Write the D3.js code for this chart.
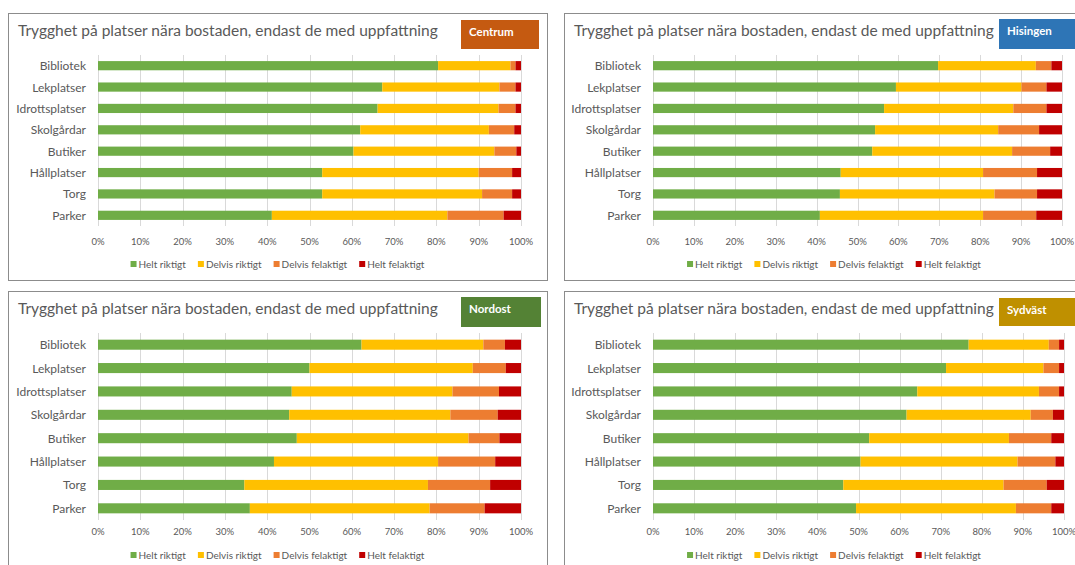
<!DOCTYPE html>
<head>
  <meta charset="utf-8">
  <script src="https://d3js.org/d3.v7.min.js"></script>
  <style>
    body { margin:0; background-color:#fff; }
    svg { display:block; }
    text { font-family: Lato, "Open Sans", sans-serif; fill:#595959; }
  </style>
</head>
<body>
<div class="chart-container"></div>
<script>
// chart data (shares in %)
var title = "Trygghet på platser nära bostaden, endast de med uppfattning";
var categories = ["Bibliotek", "Lekplatser", "Idrottsplatser", "Skolgårdar", "Butiker", "Hållplatser", "Torg", "Parker"];
var seriesNames = ["Helt riktigt", "Delvis riktigt", "Delvis felaktigt", "Helt felaktigt"];
var seriesColors = ["#70ad47", "#ffc000", "#ed7d31", "#c00000"];
var tickValues = [0, 10, 20, 30, 40, 50, 60, 70, 80, 90, 100];

var centrum = [
  [80.4, 17.1, 1.2, 1.3],
  [67.2, 27.7, 3.8, 1.3],
  [66.1, 28.6, 4.0, 1.3],
  [62.0, 30.4, 6.0, 1.6],
  [60.4, 33.3, 5.2, 1.1],
  [53.0, 37.0, 7.9, 2.1],
  [53.0, 37.8, 7.1, 2.1],
  [41.1, 41.5, 13.3, 4.1]
];
var hisingen = [
  [69.7, 23.9, 3.8, 2.6],
  [59.4, 30.7, 6.1, 3.8],
  [56.5, 31.6, 8.1, 3.8],
  [54.3, 30.1, 10.0, 5.6],
  [53.6, 34.2, 9.3, 2.9],
  [45.9, 34.8, 13.2, 6.1],
  [45.7, 37.8, 10.4, 6.1],
  [40.8, 39.9, 13.0, 6.3]
];
var nordost = [
  [62.3, 28.8, 5.1, 3.8],
  [50.0, 38.6, 7.8, 3.6],
  [45.8, 38.0, 11.0, 5.2],
  [45.2, 38.1, 11.2, 5.5],
  [47.0, 40.6, 7.3, 5.1],
  [41.6, 38.8, 13.5, 6.1],
  [34.6, 43.4, 14.7, 7.3],
  [35.9, 42.5, 13.0, 8.6]
];
var sydvast = [
  [76.8, 19.5, 2.5, 1.2],
  [71.3, 23.7, 3.8, 1.2],
  [64.3, 29.6, 4.9, 1.2],
  [61.7, 30.2, 5.4, 2.7],
  [52.6, 34.0, 10.3, 3.1],
  [50.5, 38.2, 9.2, 2.1],
  [46.3, 39.0, 10.5, 4.2],
  [49.4, 38.9, 8.6, 3.1]
];

// layout of the four chart boxes
var panels = [
  { name: "Centrum",  data: centrum,  badgeColor: "#c55a11",
    box: [8, 13, 539, 267],  plot: [98, 521, 55, 226],   titleY: 36,  tickY: 241, legendY: 264, badge: [461, 20, 78, 29] },
  { name: "Hisingen", data: hisingen, badgeColor: "#2e75b6",
    box: [564, 13, 540, 267], plot: [653, 1062, 55, 226], titleY: 36,  tickY: 241, legendY: 264, badge: [999, 19, 90, 30] },
  { name: "Nordost",  data: nordost,  badgeColor: "#548235",
    box: [8, 291, 539, 300], plot: [98, 521, 333, 520],  titleY: 314, tickY: 531, legendY: 555, badge: [461, 297, 80, 30] },
  { name: "Sydväst",  data: sydvast,  badgeColor: "#bf9000",
    box: [564, 291, 540, 300], plot: [653, 1064, 333, 520], titleY: 314, tickY: 531, legendY: 555, badge: [999, 298, 90, 28] }
];

var svg = d3.select(".chart-container").append("svg")
  .attr("width", 1075)
  .attr("height", 565);

panels.forEach(function (p) {
  var g = svg.append("g");

  g.append("rect")
    .attr("x", p.box[0] + 0.5).attr("y", p.box[1] + 0.5)
    .attr("width", p.box[2]).attr("height", p.box[3])
    .attr("fill", "#fff")
    .attr("stroke", "#8c8c8c");

  g.append("text")
    .attr("x", p.box[0] + 10)
    .attr("y", p.titleY)
    .style("font-size", "15.5px")
    .text(title);

  // badge
  g.append("rect")
    .attr("x", p.badge[0]).attr("y", p.badge[1])
    .attr("width", p.badge[2]).attr("height", p.badge[3])
    .attr("fill", p.badgeColor);
  g.append("text")
    .attr("x", p.badge[0] + 8)
    .attr("y", p.badge[1] + 15.5)
    .style("font-size", "11.5px")
    .style("font-weight", "bold")
    .style("fill", "#fff")
    .text(p.name);

  var x = d3.scaleLinear().domain([0, 100]).range([p.plot[0], p.plot[1]]);
  var y = d3.scaleBand().domain(categories).range([p.plot[2], p.plot[3]]).paddingInner(0.57).paddingOuter(0.285);

  // gridlines
  g.selectAll(".grid")
    .data(tickValues)
    .enter().append("line")
    .attr("x1", function (d) { return Math.round(x(d)) + 0.5; })
    .attr("x2", function (d) { return Math.round(x(d)) + 0.5; })
    .attr("y1", p.plot[2])
    .attr("y2", p.plot[3])
    .attr("stroke", "#d9d9d9");

  // tick labels
  g.selectAll(".tick")
    .data(tickValues)
    .enter().append("text")
    .attr("x", function (d) { return x(d); })
    .attr("y", p.tickY)
    .attr("text-anchor", "middle")
    .attr("dominant-baseline", "central")
    .style("font-size", "9.5px")
    .text(function (d) { return d + "%"; });

  // category labels
  g.selectAll(".cat")
    .data(categories)
    .enter().append("text")
    .attr("x", p.plot[0] - 12)
    .attr("y", function (d) { return y(d) + y.bandwidth() / 2; })
    .attr("text-anchor", "end")
    .attr("dominant-baseline", "central")
    .style("font-size", "12px")
    .text(function (d) { return d; });

  // stacked bars
  var rows = p.data.map(function (v, i) {
    var r = { cat: categories[i] };
    seriesNames.forEach(function (s, j) { r[s] = v[j]; });
    return r;
  });
  var stacked = d3.stack().keys(seriesNames)(rows);

  g.selectAll(".series")
    .data(stacked)
    .enter().append("g")
    .attr("fill", function (d, i) { return seriesColors[i]; })
    .selectAll("rect")
    .data(function (d) { return d; })
    .enter().append("rect")
    .attr("x", function (d) { return x(d[0]); })
    .attr("width", function (d) { return x(Math.min(d[1], 100)) - x(d[0]); })
    .attr("y", function (d) { return y(d.data.cat); })
    .attr("height", y.bandwidth());

  // legend, centred in the box
  var leg = g.append("g");
  var pos = 0;
  seriesNames.forEach(function (s, i) {
    leg.append("rect")
      .attr("x", pos).attr("y", p.legendY - 3)
      .attr("width", 6).attr("height", 6)
      .attr("fill", seriesColors[i]);
    var t = leg.append("text")
      .attr("x", pos + 8)
      .attr("y", p.legendY)
      .attr("dominant-baseline", "central")
      .style("font-size", "10px")
      .text(s);
    pos += 8 + t.node().getComputedTextLength() + 12;
  });
  var legW = pos - 12;
  leg.attr("transform", "translate(" + (p.box[0] + p.box[2] / 2 - legW / 2) + ",0)");
});
</script>
</body>
